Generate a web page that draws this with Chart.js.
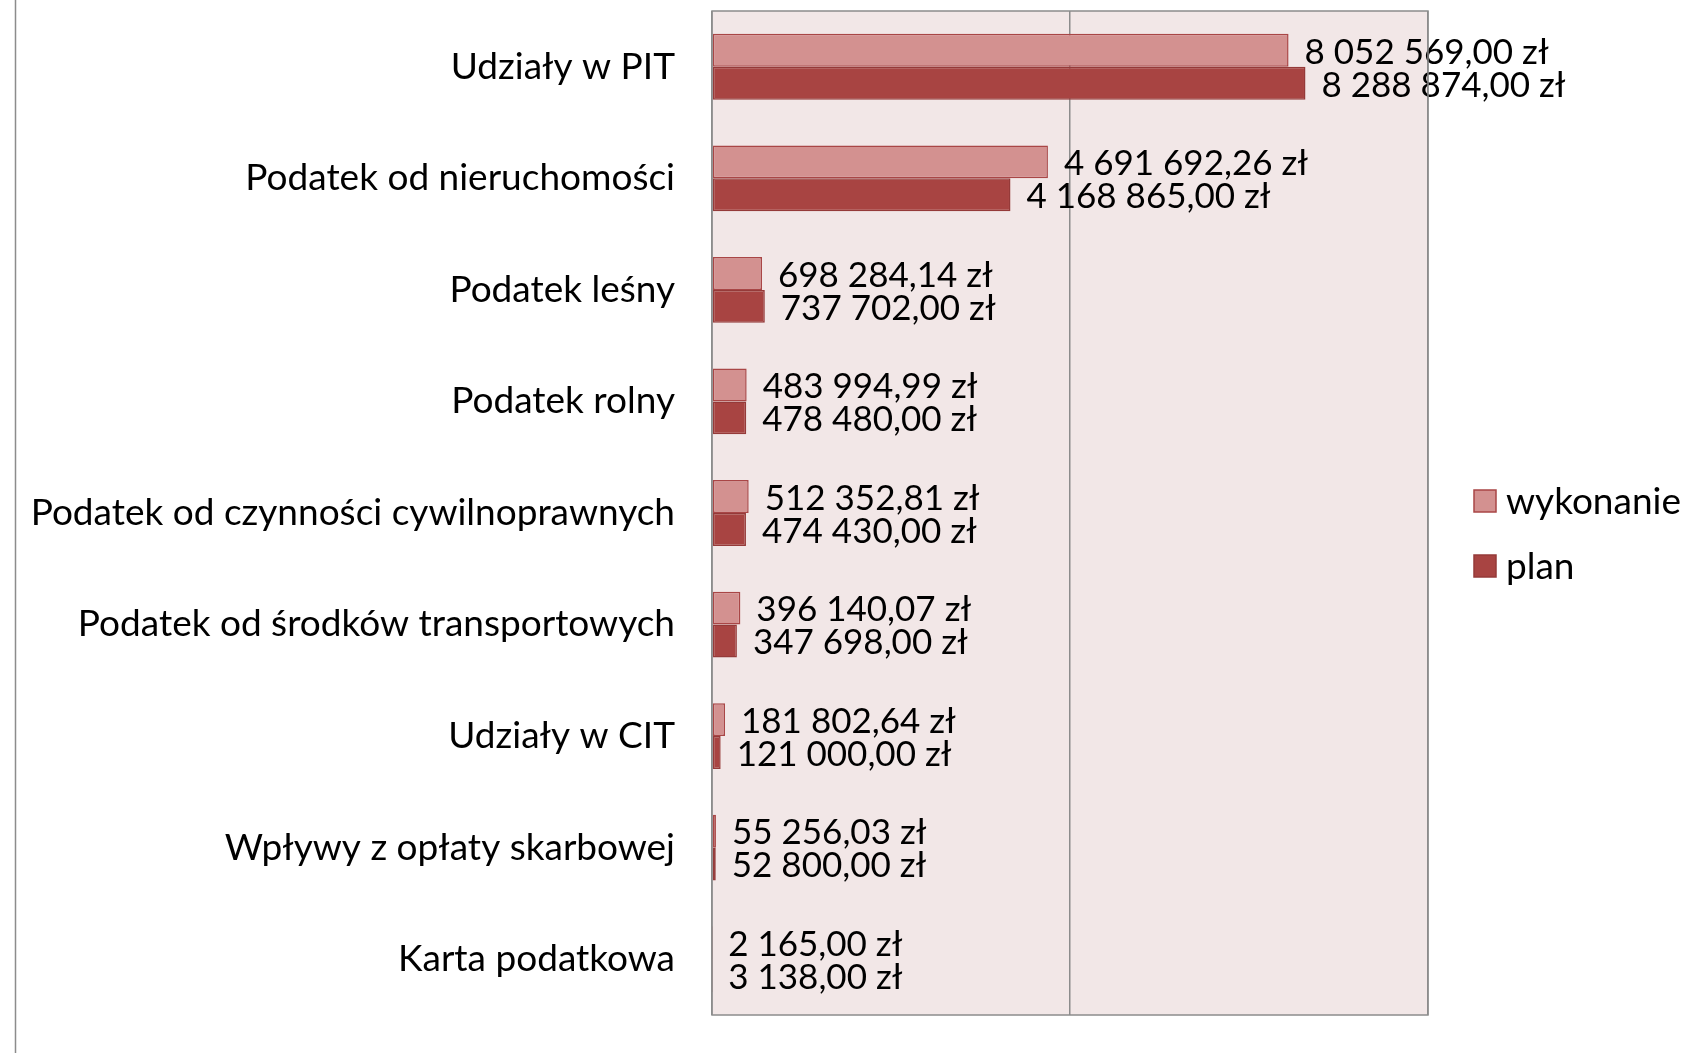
<!DOCTYPE html>
<html>
<head>
<meta charset="utf-8">
<script src="https://cdn.jsdelivr.net/npm/chart.js@4"></script>
<style>
  html, body { margin: 0; padding: 0; background: #fff; }
  #wrap { width: 1686px; height: 1053px; }
</style>
</head>
<body>
<div id="wrap"><canvas id="chart" width="1686" height="1053"></canvas></div>
<script>
const categories = [
    "Udziały w PIT",
    "Podatek od nieruchomości",
    "Podatek leśny",
    "Podatek rolny",
    "Podatek od czynności cywilnoprawnych",
    "Podatek od środków transportowych",
    "Udziały w CIT",
    "Wpływy z opłaty skarbowej",
    "Karta podatkowa"
];
const wykonanie = [8052569.00, 4691692.26, 698284.14, 483994.99, 512352.81, 396140.07, 181802.64, 55256.03, 2165.00];
const plan = [8288874.00, 4168865.00, 737702.00, 478480.00, 474430.00, 347698.00, 121000.00, 52800.00, 3138.00];
const seriesNames = ["wykonanie", "plan"];
const xTicks = [0, 5000000, 10000000];

const FONT = "Lato, Roboto, sans-serif";
const VALUE_SIZE = 35;
const LABEL_SIZE = 37;

function formatZl(v) {
    const parts = v.toFixed(2).split(".");
    const intPart = parts[0].replace(/\B(?=(\d{3})+(?!\d))/g, " ");
    return intPart + "," + parts[1] + " zł";
}

// plot background, outer left line, plot frame
const framePlugin = {
    id: "frame",
    beforeDraw(chart) {
        const { ctx, chartArea: a } = chart;
        ctx.save();
        ctx.fillStyle = "#F2E7E7";
        ctx.fillRect(a.left, a.top, a.right - a.left, a.bottom - a.top);
        ctx.strokeStyle = "#8C8C8C";
        ctx.lineWidth = 1.5;
        ctx.beginPath();
        ctx.moveTo(15.5, 0);
        ctx.lineTo(15.5, chart.height);
        ctx.stroke();
        ctx.restore();
    },
    afterDraw(chart) {
        const { ctx, chartArea: a } = chart;
        ctx.save();
        ctx.strokeStyle = "#8C8C8C";
        ctx.lineWidth = 1.5;
        ctx.strokeRect(a.left, a.top, a.right - a.left, a.bottom - a.top);
        ctx.restore();
    }
};

// value labels next to the bars
const valueLabels = {
    id: "valueLabels",
    afterDatasetsDraw(chart) {
        const { ctx } = chart;
        ctx.save();
        ctx.font = VALUE_SIZE + "px " + FONT;
        ctx.fillStyle = "#000";
        ctx.textAlign = "left";
        ctx.textBaseline = "middle";
        chart.data.datasets.forEach((ds, i) => {
            const meta = chart.getDatasetMeta(i);
            meta.data.forEach((bar, j) => {
                ctx.fillText(formatZl(ds.data[j]), bar.x + 16, bar.y + 2);
            });
        });
        ctx.restore();
    }
};

// legend on the right
const sideLegend = {
    id: "sideLegend",
    afterDraw(chart) {
        const { ctx } = chart;
        ctx.save();
        ctx.font = LABEL_SIZE + "px " + FONT;
        ctx.textBaseline = "middle";
        chart.data.datasets.forEach((ds, i) => {
            const y = 501 + i * 65;
            ctx.fillStyle = ds.backgroundColor;
            ctx.strokeStyle = ds.borderColor;
            ctx.lineWidth = 1.5;
            ctx.fillRect(1474, y - 11, 22, 22);
            ctx.strokeRect(1474, y - 11, 22, 22);
            ctx.fillStyle = "#000";
            ctx.fillText(ds.label, 1506, y + 1);
        });
        ctx.restore();
    }
};

new Chart(document.getElementById("chart"), {
    type: "bar",
    data: {
        labels: categories,
        datasets: [
            {
                label: seriesNames[0],
                data: wykonanie,
                backgroundColor: "#D39190",
                borderColor: "#A94646",
                borderWidth: 1.5,
                borderSkipped: false
            },
            {
                label: seriesNames[1],
                data: plan,
                backgroundColor: "#A84442",
                borderColor: "#953A39",
                borderWidth: 1.5,
                borderSkipped: false
            }
        ]
    },
    options: {
        indexAxis: "y",
        responsive: false,
        animation: false,
        categoryPercentage: 0.59,
        barPercentage: 1.0,
        layout: { padding: { top: 11, right: 258, bottom: 38, left: 0 } },
        plugins: {
            legend: { display: false },
            tooltip: { enabled: false }
        },
        scales: {
            x: {
                min: 0,
                max: 10000000,
                afterBuildTicks(scale) {
                    scale.ticks = xTicks.map(v => ({ value: v }));
                },
                afterFit(scale) {
                    scale.height = 0;
                    scale.paddingLeft = 0;
                    scale.paddingRight = 0;
                },
                ticks: { display: false },
                grid: { color: "#8C8C8C", lineWidth: 1.5, drawTicks: false },
                border: { display: false }
            },
            y: {
                afterFit(scale) {
                    scale.width = 712;
                    scale.paddingTop = 0;
                    scale.paddingBottom = 0;
                },
                ticks: {
                    color: "#000",
                    padding: 37,
                    font: { family: FONT, size: LABEL_SIZE }
                },
                grid: { display: false, drawTicks: false },
                border: { display: false }
            }
        }
    },
    plugins: [framePlugin, valueLabels, sideLegend]
});
</script>
</body>
</html>
